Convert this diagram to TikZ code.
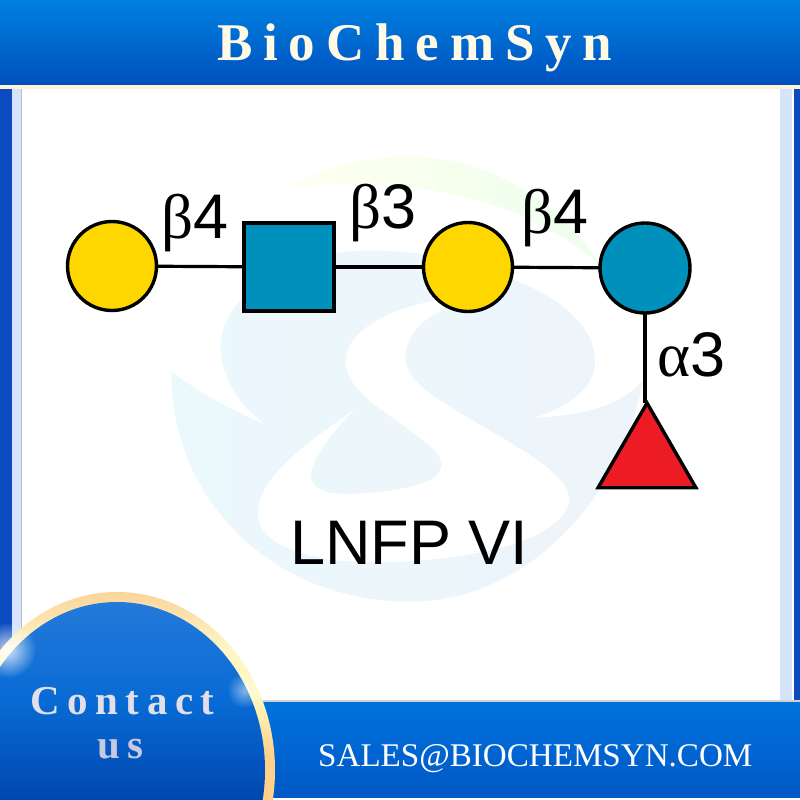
\documentclass[tikz,border=0pt]{standalone}
\usepackage{fontspec}
\setmainfont{Liberation Serif}
\newfontfamily\lsans{Liberation Sans}
\usetikzlibrary{shapes.geometric,fadings}
\tikzfading[name=glowfade,inner color=transparent!0,outer color=transparent!100]
\definecolor{headtop}{HTML}{0080E0}
\definecolor{headbot}{HTML}{0050BE}
\definecolor{bartop}{HTML}{0072DC}
\definecolor{barbot}{HTML}{0058C6}
\definecolor{cream}{HTML}{FFF3D6}
\definecolor{titlecol}{HTML}{FFF9E6}
\definecolor{contactcol}{HTML}{E2DFE9}
\definecolor{uscol}{HTML}{C6C9E0}
\definecolor{sidedark}{HTML}{0A4CC0}
\definecolor{sidelight}{HTML}{D6E4FB}
\definecolor{wmleft}{HTML}{EBF8FC}
\definecolor{wmright}{HTML}{EDF4FA}
\definecolor{gyellow}{HTML}{FFD700}
\definecolor{gblue}{HTML}{0090BC}
\definecolor{gred}{HTML}{ED1C24}
\definecolor{ringlow}{HTML}{FFD08A}
\definecolor{ringmid}{HTML}{FFF8BE}
\definecolor{ringupp}{HTML}{FFF5C8}
\definecolor{ringtop}{HTML}{FAD59A}
\definecolor{badgelow}{HTML}{0048B0}
\definecolor{badgemid}{HTML}{086AD4}
\definecolor{badgetop}{HTML}{247ADA}
\pgfdeclareverticalshading{ringshade}{100bp}{
  color(0bp)=(ringlow);
  color(52bp)=(ringlow);
  color(60bp)=(ringmid);
  color(67bp)=(ringupp);
  color(75bp)=(ringtop);
  color(100bp)=(ringtop)}
\pgfdeclareverticalshading{badgeshade}{100bp}{
  color(0bp)=(badgelow);
  color(46bp)=(badgelow);
  color(60bp)=(badgemid);
  color(75bp)=(badgetop);
  color(100bp)=(badgetop)}
\tikzset{
  gly/.style={draw=black,line width=3.4pt,inner sep=0pt,outer sep=0pt},
  link/.style={draw=black,line width=3.2pt},
  lab/.style={anchor=base west,inner sep=0pt,outer sep=0pt,font=\lsans\fontsize{63}{63}\selectfont,text=black},
}
\begin{document}
\begin{tikzpicture}[x=1pt,y=-1pt]
\useasboundingbox (0,0) rectangle (800,800);
\fill[white] (0,0) rectangle (800,800);
% side bars
\fill[sidedark] (0,85) rectangle (12,720);
\fill[sidelight] (12,85) rectangle (21,720);
\fill[black!25] (21,85) rectangle (22,720);
\fill[sidelight] (780,85) rectangle (792,720);
\fill[sidedark] (794,85) rectangle (800,720);
% watermark
\begin{scope}[shift={(150,140)},x=0.33333pt,y=-0.33333pt]
\shade[left color=yellow!6!white,right color=green!7!white]
  (410,145) .. controls (560,60) and (680,50) .. (780,50)
  .. controls (1020,50) and (1240,190) .. (1350,375)
  .. controls (1200,240) and (1000,170) .. (800,145)
  .. controls (650,125) and (520,130) .. (410,145) -- cycle;
\shade[left color=wmleft,right color=wmright]
  (65,695) .. controls (60,1080) and (370,1385) .. (780,1385)
  .. controls (1100,1385) and (1400,1120) .. (1480,720)
  .. controls (1400,810) and (1280,825) .. (1150,835)
  .. controls (1280,790) and (1338,730) .. (1335,660)
  .. controls (1330,520) and (1150,430) .. (1000,390)
  .. controls (850,330) and (600,310) .. (480,360)
  .. controls (300,420) and (210,520) .. (212,620)
  .. controls (215,720) and (270,800) .. (350,855)
  .. controls (240,810) and (150,760) .. (65,695) -- cycle;
\fill[white]
  (870,478) .. controls (700,510) and (585,580) .. (587,665)
  .. controls (590,760) and (720,820) .. (830,910)
  .. controls (880,950) and (890,985) .. (850,1015)
  .. controls (780,1055) and (620,1065) .. (550,1060)
  .. controls (490,1050) and (470,1020) .. (490,975)
  .. controls (510,920) and (570,850) .. (620,805)
  .. controls (480,900) and (325,1010) .. (323,1120)
  .. controls (325,1200) and (420,1240) .. (560,1262)
  .. controls (800,1280) and (1040,1240) .. (1150,1190)
  .. controls (1230,1150) and (1270,1100) .. (1255,1060)
  .. controls (1230,990) and (1100,920) .. (1000,860)
  .. controls (880,790) and (770,730) .. (767,660)
  .. controls (765,590) and (810,540) .. (880,510) -- cycle;
\end{scope}
% header
\shade[top color=headtop,bottom color=headbot] (0,0) rectangle (800,85);
\fill[cream] (0,85) rectangle (800,89);
\node[anchor=base west,inner sep=0pt,text=titlecol,font=\bfseries\fontsize{53}{53}\selectfont\addfontfeature{LetterSpace=20.5}] (title) at (217,60) {BioChemSyn};
% glycan
\node[gly,circle,fill=gyellow,minimum size=89pt] (gal1) at (112,266) {};
\node[gly,rectangle,fill=gblue,minimum width=90pt,minimum height=88pt] (glcnac) at (289,267) {};
\node[gly,circle,fill=gyellow,minimum size=89pt] (gal2) at (468,267) {};
\node[gly,circle,fill=gblue,minimum size=90pt] (glc) at (645,268) {};
\node[gly,regular polygon,regular polygon sides=3,fill=gred,minimum size=113pt,line join=miter] (fuc) at (647,459.5) {};
\draw[link] (gal1) -- (glcnac);
\draw[link] (glcnac) -- (gal2);
\draw[link] (gal2) -- (glc);
\draw[link] (glc.south) -- (glc.south |- fuc.corner 1);
\node[lab] (l1) at (161,238) {{\rmfamily β}4};
\node[lab] (l2) at (349,228) {{\rmfamily β}3};
\node[lab] (l3) at (521,233) {{\rmfamily β}4};
\node[lab] (l4) at (657,376) {{\rmfamily α}3};
\node[lab] (name) at (290,564) {LNFP VI};
% bottom bar
\fill[white] (265,797) rectangle (800,800);
\shade[top color=bartop,bottom color=barbot] (262,701) rectangle (800,797);
\fill[black!18] (262,699.5) rectangle (800,701.5);
\node[anchor=base west,inner sep=0pt,text=white,font=\fontsize{33.1}{33}\selectfont] (mail) at (318,766) {SALES@BIOCHEMSYN.COM};
% contact badge
\begin{scope}
\clip (0,570) rectangle (800,800);
\shade[shading=ringshade] (117,770) ellipse [x radius=158,y radius=178];
\shade[shading=badgeshade] (117,770) ellipse [x radius=148,y radius=168];
\fill[white,opacity=.8,path fading=glowfade] (8,650) circle [radius=28];
\fill[white,opacity=.5,path fading=glowfade] (245,690) circle [radius=18];
\end{scope}
\node[anchor=base west,inner sep=0pt,text=contactcol,font=\bfseries\fontsize{41}{41}\selectfont\addfontfeature{LetterSpace=18.5}] (contact) at (30,714) {Contact};
\node[anchor=base west,inner sep=0pt,text=uscol,font=\bfseries\fontsize{41}{41}\selectfont\addfontfeature{LetterSpace=18.5}] (us) at (97,758) {us};
\end{tikzpicture}
\end{document}
